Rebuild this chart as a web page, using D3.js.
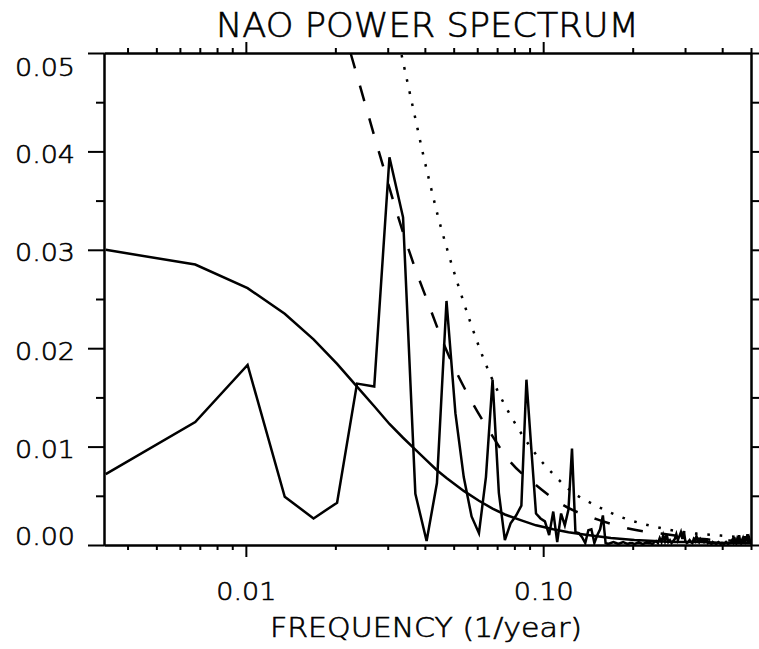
<!DOCTYPE html>
<html>
<head>
<meta charset="utf-8">
<script src="https://cdn.jsdelivr.net/npm/d3@7"></script>
<style>
  body { margin: 0; background: #fff; }
  svg text { font-family: "DejaVu Sans", sans-serif; font-weight: 200; fill: #000;
             stroke: #000; stroke-width: 0.6; }
  .axis path, .axis line { stroke: #000; stroke-width: 2; }
  .trace { fill: none; stroke: #000; stroke-width: 2.5; stroke-linejoin: miter; }
</style>
</head>
<body>
<svg id="chart" width="759" height="649"></svg>
<script>
// periodogram of the NAO index, one value per harmonic k = 1..148
var nYears = 296;
var power = [
  0.0072, 0.0125, 0.0183, 0.0049, 0.0027, 0.0043, 0.0164, 0.0161, 0.0394, 0.0333,
  0.0052, 0.0004, 0.0063, 0.0248, 0.0134, 0.0069, 0.0029, 0.0012, 0.0069, 0.0168,
  0.0053, 0.0005, 0.0022, 0.0030, 0.0040, 0.0168, 0.0098, 0.0032, 0.0027, 0.0024,
  0.0010, 0.0034, 0.0003, 0.0032, 0.0020, 0.0036, 0.0098, 0.0013, 0.0012, 0.0008,
  0.0002, 0.0015, 0.0016, 0.0002, 0.0010, 0.0016, 0.0030, 0.0002, 0.0001, 0.0002,
  0.0003, 0.0002, 0.0001, 0.0002, 0.0003, 0.0002, 0.0001, 0.0002, 0.0002, 0.0001,
  0.0002, 0.0003, 0.0002, 0.0001, 0.0002, 0.0003, 0.0002, 0.0002, 0.0001, 0.0003,
  0.0004, 0.0002, 0.0007, 0.0003, 0.0010, 0.0004, 0.0011, 0.0003, 0.0005, 0.0002,
  0.0004, 0.0006, 0.0011, 0.0005, 0.0009, 0.0013, 0.0006, 0.0014, 0.0004, 0.0002,
  0.0003, 0.0005, 0.0003, 0.0002, 0.0006, 0.0004, 0.0009, 0.0005, 0.0003, 0.0006,
  0.0004, 0.0005, 0.0003, 0.0004, 0.0005, 0.0002, 0.0003, 0.0002, 0.0001, 0.0003,
  0.0002, 0.0002, 0.0001, 0.0002, 0.0003, 0.0002, 0.0001, 0.0002, 0.0002, 0.0001,
  0.0002, 0.0003, 0.0002, 0.0001, 0.0002, 0.0002, 0.0003, 0.0005, 0.0003, 0.0008,
  0.0004, 0.0002, 0.0006, 0.0003, 0.0010, 0.0004, 0.0002, 0.0005, 0.0007, 0.0003,
  0.0009, 0.0004, 0.0006, 0.0011, 0.0003, 0.0007, 0.0004, 0.0002
];

// red-noise background (solid smooth curve), by harmonic
var redK = [1, 2, 3, 4, 5, 6, 7, 8, 9, 10, 11, 12, 13, 14, 16, 18, 20, 22, 25, 28,
            32, 36, 40, 45, 50, 60, 70, 80, 100, 120, 148];
var redPower = [0.0300, 0.0285, 0.0261, 0.0235, 0.0209, 0.0184, 0.0161, 0.0141, 0.0123, 0.0109,
                0.0097, 0.0086, 0.0076, 0.0068, 0.0055, 0.0045, 0.0037, 0.0031, 0.0025, 0.0020,
                0.0016, 0.0013, 0.0011, 0.0009, 0.0007, 0.0005, 0.0004, 0.0003, 0.0003, 0.0002, 0.0002];

// dashed significance curve
var dashFreq = [0.0225, 0.0252, 0.0272, 0.0294, 0.0318, 0.0346, 0.0371, 0.0409, 0.0462, 0.0572,
                0.0655, 0.0768, 0.0945, 0.1177, 0.152, 0.199, 0.2595, 0.3457, 0.4606, 0.5];
var dashPower = [0.0500, 0.0448, 0.0413, 0.0378, 0.0343, 0.0308, 0.0281, 0.0247, 0.0205, 0.0147,
                 0.0117, 0.0086, 0.0061, 0.0040, 0.0026, 0.0016, 0.0011, 0.0006, 0.0004, 0.00035];

// dotted significance curve
var dotFreq = [0.0334, 0.0348, 0.0370, 0.0394, 0.0421, 0.0441, 0.0476, 0.0519, 0.0568, 0.0627,
               0.0707, 0.0775, 0.0854, 0.0957, 0.1089, 0.125, 0.1485, 0.1771, 0.2133, 0.2341,
               0.2833, 0.3422, 0.3795, 0.4667, 0.5];
var dotPower = [0.0498, 0.0473, 0.0436, 0.0398, 0.0361, 0.0336, 0.0300, 0.0263, 0.0227, 0.0191,
                0.0155, 0.0132, 0.0111, 0.0090, 0.0071, 0.0054, 0.0041, 0.0030, 0.0022, 0.0019,
                0.0014, 0.0011, 0.0010, 0.0008, 0.00075];

var xMajor = [0.01, 0.1];
var xTickLabels = ["0.01", "0.10"];
var xMinor = [0.004, 0.005, 0.006, 0.007, 0.008, 0.009,
              0.02, 0.03, 0.04, 0.05, 0.06, 0.07, 0.08, 0.09,
              0.2, 0.3, 0.4, 0.5];
var yMajor = [0, 0.01, 0.02, 0.03, 0.04, 0.05];
var yMinor = [0.005, 0.015, 0.025, 0.035, 0.045];

(function () {
  var svg = d3.select("#chart");
  var plotLeft = 104, plotRight = 751, plotTop = 53, plotBottom = 545;

  var x = d3.scaleLog().domain([1 / 300, 0.5]).range([plotLeft, plotRight]);
  var y = d3.scaleLinear().domain([0, 0.05]).range([plotBottom, plotTop]);

  svg.append("defs").append("clipPath").attr("id", "plot")
    .append("rect").attr("x", plotLeft).attr("y", plotTop)
    .attr("width", plotRight - plotLeft).attr("height", plotBottom - plotTop);

  var plot = svg.append("g").attr("clip-path", "url(#plot)");

  var line = d3.line().x(function (d) { return x(d[0]); }).y(function (d) { return y(d[1]); });
  var smooth = d3.line().curve(d3.curveMonotoneX)
    .x(function (d) { return x(d[0]); }).y(function (d) { return y(d[1]); });

  var spec = power.map(function (p, i) { return [(i + 1) / nYears, p]; });
  var red = redK.map(function (k, i) { return [k / nYears, redPower[i]]; });
  var dash = dashFreq.map(function (f, i) { return [f, dashPower[i]]; });
  var dot = dotFreq.map(function (f, i) { return [f, dotPower[i]]; });

  plot.append("path").attr("class", "trace").attr("d", line(red));
  plot.append("path").attr("class", "trace").attr("d", smooth(dash))
    .attr("stroke-dasharray", "16 18");
  plot.append("path").attr("class", "trace").attr("d", smooth(dot))
    .attr("stroke-dasharray", "2.6 9.8");
  plot.append("path").attr("class", "trace").attr("d", line(spec));

  // axes: ticks point outward on all four sides
  var drawAxis = function (axis, tf) {
    return svg.append("g").attr("class", "axis").attr("transform", tf).call(axis);
  };
  var noLabel = function () { return ""; };

  var bottomAx = drawAxis(d3.axisBottom(x).tickValues(xMajor).tickSize(12).tickSizeOuter(0)
    .tickPadding(25).tickFormat(function (d, i) { return xTickLabels[i]; }),
    "translate(0," + plotBottom + ")");
  drawAxis(d3.axisBottom(x).tickValues(xMinor).tickSize(5).tickSizeOuter(0).tickFormat(noLabel),
    "translate(0," + plotBottom + ")");
  drawAxis(d3.axisTop(x).tickValues(xMajor).tickSize(11).tickSizeOuter(0).tickFormat(noLabel),
    "translate(0," + plotTop + ")");
  drawAxis(d3.axisTop(x).tickValues(xMinor).tickSize(5).tickSizeOuter(0).tickFormat(noLabel),
    "translate(0," + plotTop + ")");

  var leftAx = drawAxis(d3.axisLeft(y).tickValues(yMajor).tickSize(16).tickSizeOuter(0)
    .tickPadding(13).tickFormat(d3.format(".2f")), "translate(" + plotLeft + ",0)");
  drawAxis(d3.axisLeft(y).tickValues(yMinor).tickSize(8).tickSizeOuter(0).tickFormat(noLabel),
    "translate(" + plotLeft + ",0)");
  drawAxis(d3.axisRight(y).tickValues(yMajor).tickSize(16).tickSizeOuter(0).tickFormat(noLabel),
    "translate(" + plotRight + ",0)");
  drawAxis(d3.axisRight(y).tickValues(yMinor).tickSize(8).tickSizeOuter(0).tickFormat(noLabel),
    "translate(" + plotRight + ",0)");

  svg.selectAll(".axis").attr("font-family", null).attr("font-size", null);
  svg.selectAll(".axis text").attr("font-size", 25);

  bottomAx.selectAll("text")
    .attr("textLength", 60).attr("lengthAdjust", "spacingAndGlyphs");

  leftAx.selectAll("text")
    .attr("textLength", 60).attr("lengthAdjust", "spacingAndGlyphs")
    .attr("dy", "0.44em")
    .attr("y", function (d) { return d === 0.05 ? 11 : (d === 0 ? -12 : 0); });

  svg.append("text")
    .attr("x", (plotLeft + plotRight) / 2).attr("y", 37)
    .attr("text-anchor", "middle").attr("font-size", 33)
    .attr("textLength", 423).attr("lengthAdjust", "spacingAndGlyphs")
    .text("NAO POWER SPECTRUM");

  svg.append("text")
    .attr("x", 426).attr("y", 637)
    .attr("text-anchor", "middle").attr("font-size", 26)
    .attr("textLength", 312).attr("lengthAdjust", "spacingAndGlyphs")
    .text("FREQUENCY (1/year)");
})();
</script>
</body>
</html>
